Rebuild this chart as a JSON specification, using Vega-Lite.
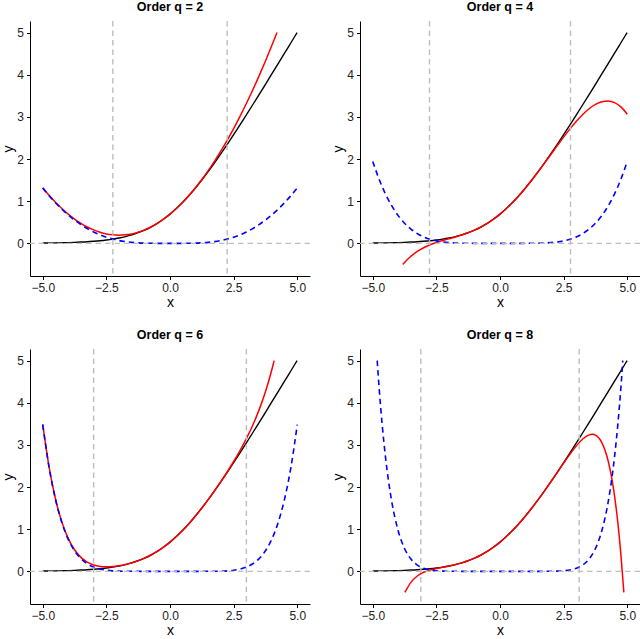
{
  "$schema": "https://vega.github.io/schema/vega-lite/v6.json",
  "background": "white",
  "padding": {"left": 1, "top": 0, "right": 0, "bottom": 0},
  "config": {
    "view": {"stroke": null},
    "font": "Liberation Sans",
    "axis": {
      "grid": false,
      "domainColor": "black",
      "domainWidth": 1,
      "tickColor": "black",
      "tickWidth": 1,
      "tickSize": 3.5,
      "labelFont": "Liberation Sans",
      "labelFontSize": 12,
      "labelColor": "#222222",
      "labelPadding": 3,
      "labelExpr": "replace(datum.label, '-', '−')",
      "titleFont": "Liberation Sans",
      "titleFontSize": 14,
      "titleFontWeight": "normal",
      "titleColor": "black"
    },
    "axisX": {"titlePadding": 2},
    "axisY": {"titlePadding": 1}
  },
  "data": {
    "values": [
      {"q": 2, "s": "v", "x": -2.245}, {"q": 2, "s": "v", "x": 2.245},
      {"q": 4, "s": "v", "x": -2.77}, {"q": 4, "s": "v", "x": 2.77},
      {"q": 6, "s": "v", "x": -3.0}, {"q": 6, "s": "v", "x": 3.0},
      {"q": 8, "s": "v", "x": -3.11}, {"q": 8, "s": "v", "x": 3.11},

      {"q": 2, "s": "f", "x": -5, "y": 0.007}, {"q": 2, "s": "f", "x": -4.75, "y": 0.009}, {"q": 2, "s": "f", "x": -4.5, "y": 0.011}, {"q": 2, "s": "f", "x": -4.25, "y": 0.014},
      {"q": 2, "s": "f", "x": -4, "y": 0.018}, {"q": 2, "s": "f", "x": -3.75, "y": 0.023}, {"q": 2, "s": "f", "x": -3.5, "y": 0.030}, {"q": 2, "s": "f", "x": -3.25, "y": 0.038},
      {"q": 2, "s": "f", "x": -3, "y": 0.049}, {"q": 2, "s": "f", "x": -2.75, "y": 0.062}, {"q": 2, "s": "f", "x": -2.5, "y": 0.079}, {"q": 2, "s": "f", "x": -2.25, "y": 0.100},
      {"q": 2, "s": "f", "x": -2, "y": 0.127}, {"q": 2, "s": "f", "x": -1.75, "y": 0.160}, {"q": 2, "s": "f", "x": -1.5, "y": 0.201}, {"q": 2, "s": "f", "x": -1.25, "y": 0.252},
      {"q": 2, "s": "f", "x": -1, "y": 0.313}, {"q": 2, "s": "f", "x": -0.75, "y": 0.387}, {"q": 2, "s": "f", "x": -0.5, "y": 0.474}, {"q": 2, "s": "f", "x": -0.25, "y": 0.576},
      {"q": 2, "s": "f", "x": 0, "y": 0.693}, {"q": 2, "s": "f", "x": 0.25, "y": 0.826}, {"q": 2, "s": "f", "x": 0.5, "y": 0.974}, {"q": 2, "s": "f", "x": 0.75, "y": 1.137},
      {"q": 2, "s": "f", "x": 1, "y": 1.313}, {"q": 2, "s": "f", "x": 1.25, "y": 1.502}, {"q": 2, "s": "f", "x": 1.5, "y": 1.701}, {"q": 2, "s": "f", "x": 1.75, "y": 1.910},
      {"q": 2, "s": "f", "x": 2, "y": 2.127}, {"q": 2, "s": "f", "x": 2.25, "y": 2.350}, {"q": 2, "s": "f", "x": 2.5, "y": 2.579}, {"q": 2, "s": "f", "x": 2.75, "y": 2.812},
      {"q": 2, "s": "f", "x": 3, "y": 3.049}, {"q": 2, "s": "f", "x": 3.25, "y": 3.288}, {"q": 2, "s": "f", "x": 3.5, "y": 3.530}, {"q": 2, "s": "f", "x": 3.75, "y": 3.773},
      {"q": 2, "s": "f", "x": 4, "y": 4.018}, {"q": 2, "s": "f", "x": 4.25, "y": 4.264}, {"q": 2, "s": "f", "x": 4.5, "y": 4.511}, {"q": 2, "s": "f", "x": 4.75, "y": 4.759},
      {"q": 2, "s": "f", "x": 4.993, "y": 5.0},

      {"q": 4, "s": "f", "x": -5, "y": 0.007}, {"q": 4, "s": "f", "x": -4.75, "y": 0.009}, {"q": 4, "s": "f", "x": -4.5, "y": 0.011}, {"q": 4, "s": "f", "x": -4.25, "y": 0.014},
      {"q": 4, "s": "f", "x": -4, "y": 0.018}, {"q": 4, "s": "f", "x": -3.75, "y": 0.023}, {"q": 4, "s": "f", "x": -3.5, "y": 0.030}, {"q": 4, "s": "f", "x": -3.25, "y": 0.038},
      {"q": 4, "s": "f", "x": -3, "y": 0.049}, {"q": 4, "s": "f", "x": -2.75, "y": 0.062}, {"q": 4, "s": "f", "x": -2.5, "y": 0.079}, {"q": 4, "s": "f", "x": -2.25, "y": 0.100},
      {"q": 4, "s": "f", "x": -2, "y": 0.127}, {"q": 4, "s": "f", "x": -1.75, "y": 0.160}, {"q": 4, "s": "f", "x": -1.5, "y": 0.201}, {"q": 4, "s": "f", "x": -1.25, "y": 0.252},
      {"q": 4, "s": "f", "x": -1, "y": 0.313}, {"q": 4, "s": "f", "x": -0.75, "y": 0.387}, {"q": 4, "s": "f", "x": -0.5, "y": 0.474}, {"q": 4, "s": "f", "x": -0.25, "y": 0.576},
      {"q": 4, "s": "f", "x": 0, "y": 0.693}, {"q": 4, "s": "f", "x": 0.25, "y": 0.826}, {"q": 4, "s": "f", "x": 0.5, "y": 0.974}, {"q": 4, "s": "f", "x": 0.75, "y": 1.137},
      {"q": 4, "s": "f", "x": 1, "y": 1.313}, {"q": 4, "s": "f", "x": 1.25, "y": 1.502}, {"q": 4, "s": "f", "x": 1.5, "y": 1.701}, {"q": 4, "s": "f", "x": 1.75, "y": 1.910},
      {"q": 4, "s": "f", "x": 2, "y": 2.127}, {"q": 4, "s": "f", "x": 2.25, "y": 2.350}, {"q": 4, "s": "f", "x": 2.5, "y": 2.579}, {"q": 4, "s": "f", "x": 2.75, "y": 2.812},
      {"q": 4, "s": "f", "x": 3, "y": 3.049}, {"q": 4, "s": "f", "x": 3.25, "y": 3.288}, {"q": 4, "s": "f", "x": 3.5, "y": 3.530}, {"q": 4, "s": "f", "x": 3.75, "y": 3.773},
      {"q": 4, "s": "f", "x": 4, "y": 4.018}, {"q": 4, "s": "f", "x": 4.25, "y": 4.264}, {"q": 4, "s": "f", "x": 4.5, "y": 4.511}, {"q": 4, "s": "f", "x": 4.75, "y": 4.759},
      {"q": 4, "s": "f", "x": 4.993, "y": 5.0},

      {"q": 6, "s": "f", "x": -5, "y": 0.007}, {"q": 6, "s": "f", "x": -4.75, "y": 0.009}, {"q": 6, "s": "f", "x": -4.5, "y": 0.011}, {"q": 6, "s": "f", "x": -4.25, "y": 0.014},
      {"q": 6, "s": "f", "x": -4, "y": 0.018}, {"q": 6, "s": "f", "x": -3.75, "y": 0.023}, {"q": 6, "s": "f", "x": -3.5, "y": 0.030}, {"q": 6, "s": "f", "x": -3.25, "y": 0.038},
      {"q": 6, "s": "f", "x": -3, "y": 0.049}, {"q": 6, "s": "f", "x": -2.75, "y": 0.062}, {"q": 6, "s": "f", "x": -2.5, "y": 0.079}, {"q": 6, "s": "f", "x": -2.25, "y": 0.100},
      {"q": 6, "s": "f", "x": -2, "y": 0.127}, {"q": 6, "s": "f", "x": -1.75, "y": 0.160}, {"q": 6, "s": "f", "x": -1.5, "y": 0.201}, {"q": 6, "s": "f", "x": -1.25, "y": 0.252},
      {"q": 6, "s": "f", "x": -1, "y": 0.313}, {"q": 6, "s": "f", "x": -0.75, "y": 0.387}, {"q": 6, "s": "f", "x": -0.5, "y": 0.474}, {"q": 6, "s": "f", "x": -0.25, "y": 0.576},
      {"q": 6, "s": "f", "x": 0, "y": 0.693}, {"q": 6, "s": "f", "x": 0.25, "y": 0.826}, {"q": 6, "s": "f", "x": 0.5, "y": 0.974}, {"q": 6, "s": "f", "x": 0.75, "y": 1.137},
      {"q": 6, "s": "f", "x": 1, "y": 1.313}, {"q": 6, "s": "f", "x": 1.25, "y": 1.502}, {"q": 6, "s": "f", "x": 1.5, "y": 1.701}, {"q": 6, "s": "f", "x": 1.75, "y": 1.910},
      {"q": 6, "s": "f", "x": 2, "y": 2.127}, {"q": 6, "s": "f", "x": 2.25, "y": 2.350}, {"q": 6, "s": "f", "x": 2.5, "y": 2.579}, {"q": 6, "s": "f", "x": 2.75, "y": 2.812},
      {"q": 6, "s": "f", "x": 3, "y": 3.049}, {"q": 6, "s": "f", "x": 3.25, "y": 3.288}, {"q": 6, "s": "f", "x": 3.5, "y": 3.530}, {"q": 6, "s": "f", "x": 3.75, "y": 3.773},
      {"q": 6, "s": "f", "x": 4, "y": 4.018}, {"q": 6, "s": "f", "x": 4.25, "y": 4.264}, {"q": 6, "s": "f", "x": 4.5, "y": 4.511}, {"q": 6, "s": "f", "x": 4.75, "y": 4.759},
      {"q": 6, "s": "f", "x": 4.993, "y": 5.0},

      {"q": 8, "s": "f", "x": -5, "y": 0.007}, {"q": 8, "s": "f", "x": -4.75, "y": 0.009}, {"q": 8, "s": "f", "x": -4.5, "y": 0.011}, {"q": 8, "s": "f", "x": -4.25, "y": 0.014},
      {"q": 8, "s": "f", "x": -4, "y": 0.018}, {"q": 8, "s": "f", "x": -3.75, "y": 0.023}, {"q": 8, "s": "f", "x": -3.5, "y": 0.030}, {"q": 8, "s": "f", "x": -3.25, "y": 0.038},
      {"q": 8, "s": "f", "x": -3, "y": 0.049}, {"q": 8, "s": "f", "x": -2.75, "y": 0.062}, {"q": 8, "s": "f", "x": -2.5, "y": 0.079}, {"q": 8, "s": "f", "x": -2.25, "y": 0.100},
      {"q": 8, "s": "f", "x": -2, "y": 0.127}, {"q": 8, "s": "f", "x": -1.75, "y": 0.160}, {"q": 8, "s": "f", "x": -1.5, "y": 0.201}, {"q": 8, "s": "f", "x": -1.25, "y": 0.252},
      {"q": 8, "s": "f", "x": -1, "y": 0.313}, {"q": 8, "s": "f", "x": -0.75, "y": 0.387}, {"q": 8, "s": "f", "x": -0.5, "y": 0.474}, {"q": 8, "s": "f", "x": -0.25, "y": 0.576},
      {"q": 8, "s": "f", "x": 0, "y": 0.693}, {"q": 8, "s": "f", "x": 0.25, "y": 0.826}, {"q": 8, "s": "f", "x": 0.5, "y": 0.974}, {"q": 8, "s": "f", "x": 0.75, "y": 1.137},
      {"q": 8, "s": "f", "x": 1, "y": 1.313}, {"q": 8, "s": "f", "x": 1.25, "y": 1.502}, {"q": 8, "s": "f", "x": 1.5, "y": 1.701}, {"q": 8, "s": "f", "x": 1.75, "y": 1.910},
      {"q": 8, "s": "f", "x": 2, "y": 2.127}, {"q": 8, "s": "f", "x": 2.25, "y": 2.350}, {"q": 8, "s": "f", "x": 2.5, "y": 2.579}, {"q": 8, "s": "f", "x": 2.75, "y": 2.812},
      {"q": 8, "s": "f", "x": 3, "y": 3.049}, {"q": 8, "s": "f", "x": 3.25, "y": 3.288}, {"q": 8, "s": "f", "x": 3.5, "y": 3.530}, {"q": 8, "s": "f", "x": 3.75, "y": 3.773},
      {"q": 8, "s": "f", "x": 4, "y": 4.018}, {"q": 8, "s": "f", "x": 4.25, "y": 4.264}, {"q": 8, "s": "f", "x": 4.5, "y": 4.511}, {"q": 8, "s": "f", "x": 4.75, "y": 4.759},
      {"q": 8, "s": "f", "x": 4.993, "y": 5.0},

      {"q": 2, "s": "T", "x": -5, "y": 1.318}, {"q": 2, "s": "T", "x": -4.75, "y": 1.138}, {"q": 2, "s": "T", "x": -4.5, "y": 0.974}, {"q": 2, "s": "T", "x": -4.25, "y": 0.826},
      {"q": 2, "s": "T", "x": -4, "y": 0.693}, {"q": 2, "s": "T", "x": -3.75, "y": 0.576}, {"q": 2, "s": "T", "x": -3.5, "y": 0.474}, {"q": 2, "s": "T", "x": -3.25, "y": 0.388},
      {"q": 2, "s": "T", "x": -3, "y": 0.318}, {"q": 2, "s": "T", "x": -2.75, "y": 0.263}, {"q": 2, "s": "T", "x": -2.5, "y": 0.224}, {"q": 2, "s": "T", "x": -2.25, "y": 0.201},
      {"q": 2, "s": "T", "x": -2, "y": 0.193}, {"q": 2, "s": "T", "x": -1.75, "y": 0.201}, {"q": 2, "s": "T", "x": -1.5, "y": 0.224}, {"q": 2, "s": "T", "x": -1.25, "y": 0.263},
      {"q": 2, "s": "T", "x": -1, "y": 0.318}, {"q": 2, "s": "T", "x": -0.75, "y": 0.388}, {"q": 2, "s": "T", "x": -0.5, "y": 0.474}, {"q": 2, "s": "T", "x": -0.25, "y": 0.576},
      {"q": 2, "s": "T", "x": 0, "y": 0.693}, {"q": 2, "s": "T", "x": 0.25, "y": 0.826}, {"q": 2, "s": "T", "x": 0.5, "y": 0.974}, {"q": 2, "s": "T", "x": 0.75, "y": 1.138},
      {"q": 2, "s": "T", "x": 1, "y": 1.318}, {"q": 2, "s": "T", "x": 1.25, "y": 1.513}, {"q": 2, "s": "T", "x": 1.5, "y": 1.724}, {"q": 2, "s": "T", "x": 1.75, "y": 1.951},
      {"q": 2, "s": "T", "x": 2, "y": 2.193}, {"q": 2, "s": "T", "x": 2.25, "y": 2.451}, {"q": 2, "s": "T", "x": 2.5, "y": 2.724}, {"q": 2, "s": "T", "x": 2.75, "y": 3.013},
      {"q": 2, "s": "T", "x": 3, "y": 3.318}, {"q": 2, "s": "T", "x": 3.25, "y": 3.638}, {"q": 2, "s": "T", "x": 3.5, "y": 3.974}, {"q": 2, "s": "T", "x": 3.75, "y": 4.326},
      {"q": 2, "s": "T", "x": 4, "y": 4.693}, {"q": 2, "s": "T", "x": 4.201, "y": 5.0},

      {"q": 4, "s": "T", "x": -3.819, "y": -0.5}, {"q": 4, "s": "T", "x": -3.75, "y": -0.454}, {"q": 4, "s": "T", "x": -3.5, "y": -0.307}, {"q": 4, "s": "T", "x": -3.25, "y": -0.193},
      {"q": 4, "s": "T", "x": -3, "y": -0.104}, {"q": 4, "s": "T", "x": -2.75, "y": -0.034}, {"q": 4, "s": "T", "x": -2.5, "y": 0.021}, {"q": 4, "s": "T", "x": -2.25, "y": 0.067},
      {"q": 4, "s": "T", "x": -2, "y": 0.110}, {"q": 4, "s": "T", "x": -1.75, "y": 0.152}, {"q": 4, "s": "T", "x": -1.5, "y": 0.198}, {"q": 4, "s": "T", "x": -1.25, "y": 0.251},
      {"q": 4, "s": "T", "x": -1, "y": 0.313}, {"q": 4, "s": "T", "x": -0.75, "y": 0.387}, {"q": 4, "s": "T", "x": -0.5, "y": 0.474}, {"q": 4, "s": "T", "x": -0.25, "y": 0.576},
      {"q": 4, "s": "T", "x": 0, "y": 0.693}, {"q": 4, "s": "T", "x": 0.25, "y": 0.826}, {"q": 4, "s": "T", "x": 0.5, "y": 0.974}, {"q": 4, "s": "T", "x": 0.75, "y": 1.137},
      {"q": 4, "s": "T", "x": 1, "y": 1.313}, {"q": 4, "s": "T", "x": 1.25, "y": 1.501}, {"q": 4, "s": "T", "x": 1.5, "y": 1.698}, {"q": 4, "s": "T", "x": 1.75, "y": 1.902},
      {"q": 4, "s": "T", "x": 2, "y": 2.110}, {"q": 4, "s": "T", "x": 2.25, "y": 2.317}, {"q": 4, "s": "T", "x": 2.5, "y": 2.521}, {"q": 4, "s": "T", "x": 2.75, "y": 2.716},
      {"q": 4, "s": "T", "x": 3, "y": 2.896}, {"q": 4, "s": "T", "x": 3.25, "y": 3.057}, {"q": 4, "s": "T", "x": 3.5, "y": 3.193}, {"q": 4, "s": "T", "x": 3.75, "y": 3.296},
      {"q": 4, "s": "T", "x": 4, "y": 3.360}, {"q": 4, "s": "T", "x": 4.25, "y": 3.377}, {"q": 4, "s": "T", "x": 4.5, "y": 3.339}, {"q": 4, "s": "T", "x": 4.75, "y": 3.237},
      {"q": 4, "s": "T", "x": 5, "y": 3.063},

      {"q": 6, "s": "T", "x": -5, "y": 3.488}, {"q": 6, "s": "T", "x": -4.75, "y": 2.475}, {"q": 6, "s": "T", "x": -4.5, "y": 1.722}, {"q": 6, "s": "T", "x": -4.25, "y": 1.173},
      {"q": 6, "s": "T", "x": -4, "y": 0.782}, {"q": 6, "s": "T", "x": -3.75, "y": 0.512}, {"q": 6, "s": "T", "x": -3.5, "y": 0.331}, {"q": 6, "s": "T", "x": -3.25, "y": 0.217},
      {"q": 6, "s": "T", "x": -3, "y": 0.149}, {"q": 6, "s": "T", "x": -2.75, "y": 0.116}, {"q": 6, "s": "T", "x": -2.5, "y": 0.106}, {"q": 6, "s": "T", "x": -2.25, "y": 0.113},
      {"q": 6, "s": "T", "x": -2, "y": 0.132}, {"q": 6, "s": "T", "x": -1.75, "y": 0.162}, {"q": 6, "s": "T", "x": -1.5, "y": 0.202}, {"q": 6, "s": "T", "x": -1.25, "y": 0.252},
      {"q": 6, "s": "T", "x": -1, "y": 0.313}, {"q": 6, "s": "T", "x": -0.75, "y": 0.387}, {"q": 6, "s": "T", "x": -0.5, "y": 0.474}, {"q": 6, "s": "T", "x": -0.25, "y": 0.576},
      {"q": 6, "s": "T", "x": 0, "y": 0.693}, {"q": 6, "s": "T", "x": 0.25, "y": 0.826}, {"q": 6, "s": "T", "x": 0.5, "y": 0.974}, {"q": 6, "s": "T", "x": 0.75, "y": 1.137},
      {"q": 6, "s": "T", "x": 1, "y": 1.313}, {"q": 6, "s": "T", "x": 1.25, "y": 1.502}, {"q": 6, "s": "T", "x": 1.5, "y": 1.702}, {"q": 6, "s": "T", "x": 1.75, "y": 1.912},
      {"q": 6, "s": "T", "x": 2, "y": 2.132}, {"q": 6, "s": "T", "x": 2.25, "y": 2.363}, {"q": 6, "s": "T", "x": 2.5, "y": 2.606}, {"q": 6, "s": "T", "x": 2.75, "y": 2.866},
      {"q": 6, "s": "T", "x": 3, "y": 3.149}, {"q": 6, "s": "T", "x": 3.25, "y": 3.467}, {"q": 6, "s": "T", "x": 3.5, "y": 3.831}, {"q": 6, "s": "T", "x": 3.75, "y": 4.262},
      {"q": 6, "s": "T", "x": 4, "y": 4.782}, {"q": 6, "s": "T", "x": 4.091, "y": 5.0},

      {"q": 8, "s": "T", "x": -3.736, "y": -0.5}, {"q": 8, "s": "T", "x": -3.5, "y": -0.262}, {"q": 8, "s": "T", "x": -3.25, "y": -0.111}, {"q": 8, "s": "T", "x": -3, "y": -0.023},
      {"q": 8, "s": "T", "x": -2.75, "y": 0.030}, {"q": 8, "s": "T", "x": -2.5, "y": 0.066}, {"q": 8, "s": "T", "x": -2.25, "y": 0.095}, {"q": 8, "s": "T", "x": -2, "y": 0.125},
      {"q": 8, "s": "T", "x": -1.75, "y": 0.160}, {"q": 8, "s": "T", "x": -1.5, "y": 0.201}, {"q": 8, "s": "T", "x": -1.25, "y": 0.252}, {"q": 8, "s": "T", "x": -1, "y": 0.313},
      {"q": 8, "s": "T", "x": -0.75, "y": 0.387}, {"q": 8, "s": "T", "x": -0.5, "y": 0.474}, {"q": 8, "s": "T", "x": -0.25, "y": 0.576}, {"q": 8, "s": "T", "x": 0, "y": 0.693},
      {"q": 8, "s": "T", "x": 0.25, "y": 0.826}, {"q": 8, "s": "T", "x": 0.5, "y": 0.974}, {"q": 8, "s": "T", "x": 0.75, "y": 1.137}, {"q": 8, "s": "T", "x": 1, "y": 1.313},
      {"q": 8, "s": "T", "x": 1.25, "y": 1.502}, {"q": 8, "s": "T", "x": 1.5, "y": 1.701}, {"q": 8, "s": "T", "x": 1.75, "y": 1.910}, {"q": 8, "s": "T", "x": 2, "y": 2.125},
      {"q": 8, "s": "T", "x": 2.25, "y": 2.345}, {"q": 8, "s": "T", "x": 2.5, "y": 2.566}, {"q": 8, "s": "T", "x": 2.75, "y": 2.780}, {"q": 8, "s": "T", "x": 3, "y": 2.977},
      {"q": 8, "s": "T", "x": 3.25, "y": 3.139}, {"q": 8, "s": "T", "x": 3.5, "y": 3.238}, {"q": 8, "s": "T", "x": 3.625, "y": 3.251}, {"q": 8, "s": "T", "x": 3.75, "y": 3.231},
      {"q": 8, "s": "T", "x": 4, "y": 3.055}, {"q": 8, "s": "T", "x": 4.25, "y": 2.618}, {"q": 8, "s": "T", "x": 4.375, "y": 2.263}, {"q": 8, "s": "T", "x": 4.5, "y": 1.791},
      {"q": 8, "s": "T", "x": 4.625, "y": 1.178}, {"q": 8, "s": "T", "x": 4.75, "y": 0.396}, {"q": 8, "s": "T", "x": 4.85, "y": -0.372}, {"q": 8, "s": "T", "x": 4.865, "y": -0.5},

      {"q": 2, "s": "e", "x": -5, "y": 1.311}, {"q": 2, "s": "e", "x": -4.75, "y": 1.130}, {"q": 2, "s": "e", "x": -4.5, "y": 0.963}, {"q": 2, "s": "e", "x": -4.25, "y": 0.812},
      {"q": 2, "s": "e", "x": -4, "y": 0.675}, {"q": 2, "s": "e", "x": -3.75, "y": 0.553}, {"q": 2, "s": "e", "x": -3.5, "y": 0.445}, {"q": 2, "s": "e", "x": -3.25, "y": 0.350},
      {"q": 2, "s": "e", "x": -3, "y": 0.270}, {"q": 2, "s": "e", "x": -2.75, "y": 0.201}, {"q": 2, "s": "e", "x": -2.5, "y": 0.146}, {"q": 2, "s": "e", "x": -2.25, "y": 0.101},
      {"q": 2, "s": "e", "x": -2, "y": 0.066}, {"q": 2, "s": "e", "x": -1.75, "y": 0.041}, {"q": 2, "s": "e", "x": -1.5, "y": 0.023}, {"q": 2, "s": "e", "x": -1.25, "y": 0.012},
      {"q": 2, "s": "e", "x": -1, "y": 0.005}, {"q": 2, "s": "e", "x": -0.75, "y": 0.002}, {"q": 2, "s": "e", "x": -0.5, "y": 0.0}, {"q": 2, "s": "e", "x": -0.25, "y": 0.0},
      {"q": 2, "s": "e", "x": 0, "y": 0.0}, {"q": 2, "s": "e", "x": 0.25, "y": 0.0}, {"q": 2, "s": "e", "x": 0.5, "y": 0.0}, {"q": 2, "s": "e", "x": 0.75, "y": 0.002},
      {"q": 2, "s": "e", "x": 1, "y": 0.005}, {"q": 2, "s": "e", "x": 1.25, "y": 0.012}, {"q": 2, "s": "e", "x": 1.5, "y": 0.023}, {"q": 2, "s": "e", "x": 1.75, "y": 0.041},
      {"q": 2, "s": "e", "x": 2, "y": 0.066}, {"q": 2, "s": "e", "x": 2.25, "y": 0.101}, {"q": 2, "s": "e", "x": 2.5, "y": 0.146}, {"q": 2, "s": "e", "x": 2.75, "y": 0.201},
      {"q": 2, "s": "e", "x": 3, "y": 0.270}, {"q": 2, "s": "e", "x": 3.25, "y": 0.350}, {"q": 2, "s": "e", "x": 3.5, "y": 0.445}, {"q": 2, "s": "e", "x": 3.75, "y": 0.553},
      {"q": 2, "s": "e", "x": 4, "y": 0.675}, {"q": 2, "s": "e", "x": 4.25, "y": 0.812}, {"q": 2, "s": "e", "x": 4.5, "y": 0.963}, {"q": 2, "s": "e", "x": 4.75, "y": 1.130},
      {"q": 2, "s": "e", "x": 5, "y": 1.311},

      {"q": 4, "s": "e", "x": -5, "y": 1.944}, {"q": 4, "s": "e", "x": -4.75, "y": 1.522}, {"q": 4, "s": "e", "x": -4.5, "y": 1.172}, {"q": 4, "s": "e", "x": -4.25, "y": 0.887},
      {"q": 4, "s": "e", "x": -4, "y": 0.658}, {"q": 4, "s": "e", "x": -3.75, "y": 0.477}, {"q": 4, "s": "e", "x": -3.5, "y": 0.337}, {"q": 4, "s": "e", "x": -3.25, "y": 0.231},
      {"q": 4, "s": "e", "x": -3, "y": 0.152}, {"q": 4, "s": "e", "x": -2.75, "y": 0.096}, {"q": 4, "s": "e", "x": -2.5, "y": 0.058}, {"q": 4, "s": "e", "x": -2.25, "y": 0.033},
      {"q": 4, "s": "e", "x": -2, "y": 0.017}, {"q": 4, "s": "e", "x": -1.75, "y": 0.008}, {"q": 4, "s": "e", "x": -1.5, "y": 0.003}, {"q": 4, "s": "e", "x": -1.25, "y": 0.001},
      {"q": 4, "s": "e", "x": -1, "y": 0.0}, {"q": 4, "s": "e", "x": -0.5, "y": 0.0}, {"q": 4, "s": "e", "x": 0, "y": 0.0}, {"q": 4, "s": "e", "x": 0.5, "y": 0.0},
      {"q": 4, "s": "e", "x": 1, "y": 0.0}, {"q": 4, "s": "e", "x": 1.25, "y": 0.001}, {"q": 4, "s": "e", "x": 1.5, "y": 0.003}, {"q": 4, "s": "e", "x": 1.75, "y": 0.008},
      {"q": 4, "s": "e", "x": 2, "y": 0.017}, {"q": 4, "s": "e", "x": 2.25, "y": 0.033}, {"q": 4, "s": "e", "x": 2.5, "y": 0.058}, {"q": 4, "s": "e", "x": 2.75, "y": 0.096},
      {"q": 4, "s": "e", "x": 3, "y": 0.152}, {"q": 4, "s": "e", "x": 3.25, "y": 0.231}, {"q": 4, "s": "e", "x": 3.5, "y": 0.337}, {"q": 4, "s": "e", "x": 3.75, "y": 0.477},
      {"q": 4, "s": "e", "x": 4, "y": 0.658}, {"q": 4, "s": "e", "x": 4.25, "y": 0.887}, {"q": 4, "s": "e", "x": 4.5, "y": 1.172}, {"q": 4, "s": "e", "x": 4.75, "y": 1.522},
      {"q": 4, "s": "e", "x": 5, "y": 1.944},

      {"q": 6, "s": "e", "x": -5, "y": 3.482}, {"q": 6, "s": "e", "x": -4.75, "y": 2.467}, {"q": 6, "s": "e", "x": -4.5, "y": 1.711}, {"q": 6, "s": "e", "x": -4.25, "y": 1.159},
      {"q": 6, "s": "e", "x": -4, "y": 0.764}, {"q": 6, "s": "e", "x": -3.75, "y": 0.488}, {"q": 6, "s": "e", "x": -3.5, "y": 0.301}, {"q": 6, "s": "e", "x": -3.25, "y": 0.179},
      {"q": 6, "s": "e", "x": -3, "y": 0.101}, {"q": 6, "s": "e", "x": -2.75, "y": 0.054}, {"q": 6, "s": "e", "x": -2.5, "y": 0.027}, {"q": 6, "s": "e", "x": -2.25, "y": 0.012},
      {"q": 6, "s": "e", "x": -2, "y": 0.005}, {"q": 6, "s": "e", "x": -1.75, "y": 0.002}, {"q": 6, "s": "e", "x": -1.5, "y": 0.001}, {"q": 6, "s": "e", "x": -1, "y": 0.0},
      {"q": 6, "s": "e", "x": 0, "y": 0.0}, {"q": 6, "s": "e", "x": 1, "y": 0.0}, {"q": 6, "s": "e", "x": 1.5, "y": 0.001}, {"q": 6, "s": "e", "x": 1.75, "y": 0.002},
      {"q": 6, "s": "e", "x": 2, "y": 0.005}, {"q": 6, "s": "e", "x": 2.25, "y": 0.012}, {"q": 6, "s": "e", "x": 2.5, "y": 0.027}, {"q": 6, "s": "e", "x": 2.75, "y": 0.054},
      {"q": 6, "s": "e", "x": 3, "y": 0.101}, {"q": 6, "s": "e", "x": 3.25, "y": 0.179}, {"q": 6, "s": "e", "x": 3.5, "y": 0.301}, {"q": 6, "s": "e", "x": 3.75, "y": 0.488},
      {"q": 6, "s": "e", "x": 4, "y": 0.764}, {"q": 6, "s": "e", "x": 4.25, "y": 1.159}, {"q": 6, "s": "e", "x": 4.5, "y": 1.711}, {"q": 6, "s": "e", "x": 4.75, "y": 2.467},
      {"q": 6, "s": "e", "x": 5, "y": 3.482},

      {"q": 8, "s": "e", "x": -4.8245, "y": 5.0}, {"q": 8, "s": "e", "x": -4.75, "y": 4.362}, {"q": 8, "s": "e", "x": -4.625, "y": 3.457}, {"q": 8, "s": "e", "x": -4.5, "y": 2.720},
      {"q": 8, "s": "e", "x": -4.375, "y": 2.125}, {"q": 8, "s": "e", "x": -4.25, "y": 1.646}, {"q": 8, "s": "e", "x": -4, "y": 0.963}, {"q": 8, "s": "e", "x": -3.75, "y": 0.542},
      {"q": 8, "s": "e", "x": -3.5, "y": 0.292}, {"q": 8, "s": "e", "x": -3.25, "y": 0.149}, {"q": 8, "s": "e", "x": -3, "y": 0.072}, {"q": 8, "s": "e", "x": -2.75, "y": 0.032},
      {"q": 8, "s": "e", "x": -2.5, "y": 0.013}, {"q": 8, "s": "e", "x": -2.25, "y": 0.005}, {"q": 8, "s": "e", "x": -2, "y": 0.002}, {"q": 8, "s": "e", "x": -1.5, "y": 0.0},
      {"q": 8, "s": "e", "x": 0, "y": 0.0}, {"q": 8, "s": "e", "x": 1.5, "y": 0.0}, {"q": 8, "s": "e", "x": 2, "y": 0.002}, {"q": 8, "s": "e", "x": 2.25, "y": 0.005},
      {"q": 8, "s": "e", "x": 2.5, "y": 0.013}, {"q": 8, "s": "e", "x": 2.75, "y": 0.032}, {"q": 8, "s": "e", "x": 3, "y": 0.072}, {"q": 8, "s": "e", "x": 3.25, "y": 0.149},
      {"q": 8, "s": "e", "x": 3.5, "y": 0.292}, {"q": 8, "s": "e", "x": 3.75, "y": 0.542}, {"q": 8, "s": "e", "x": 4, "y": 0.963}, {"q": 8, "s": "e", "x": 4.25, "y": 1.646},
      {"q": 8, "s": "e", "x": 4.375, "y": 2.125}, {"q": 8, "s": "e", "x": 4.5, "y": 2.720}, {"q": 8, "s": "e", "x": 4.625, "y": 3.457}, {"q": 8, "s": "e", "x": 4.75, "y": 4.362},
      {"q": 8, "s": "e", "x": 4.8245, "y": 5.0}
    ]
  },
  "facet": {
    "field": "q",
    "type": "ordinal",
    "title": null,
    "header": {
      "labelExpr": "'Order q = ' + datum.value",
      "labelFont": "Liberation Sans",
      "labelFontSize": 12.5,
      "labelFontWeight": "bold",
      "labelColor": "black",
      "labelPadding": 7
    }
  },
  "columns": 2,
  "spacing": {"row": 18, "column": 20},
  "resolve": {"axis": {"x": "independent", "y": "independent"}},
  "spec": {
    "width": 280,
    "height": 255,
    "layer": [
      {
        "transform": [{"filter": "datum.s === 'f'"}],
        "mark": {"type": "line", "color": "black", "strokeWidth": 1.4, "interpolate": "monotone"},
        "encoding": {
          "x": {"field": "x", "type": "quantitative", "title": "x",
                "scale": {"domain": [-5.5, 5.5], "nice": false, "zero": false},
                "axis": {"values": [-5, -2.5, 0, 2.5, 5], "format": ".1f"}},
          "y": {"field": "y", "type": "quantitative", "title": "y",
                "scale": {"domain": [-0.775, 5.275], "nice": false, "zero": false},
                "axis": {"values": [0, 1, 2, 3, 4, 5]}}
        }
      },
      {
        "transform": [{"filter": "datum.s === 'T'"}],
        "mark": {"type": "line", "color": "#FF0000", "strokeWidth": 1.5, "interpolate": "monotone"},
        "encoding": {
          "x": {"field": "x", "type": "quantitative"},
          "y": {"field": "y", "type": "quantitative"}
        }
      },
      {
        "transform": [{"filter": "datum.s === 'e'"}],
        "mark": {"type": "line", "color": "#0000FF", "strokeWidth": 1.6, "strokeDash": [5.5, 4], "interpolate": "monotone"},
        "encoding": {
          "x": {"field": "x", "type": "quantitative"},
          "y": {"field": "y", "type": "quantitative"}
        }
      },
      {
        "transform": [{"filter": "datum.s === 'v'"}],
        "mark": {"type": "rule", "color": "#BEBEBE", "strokeWidth": 1.4, "strokeDash": [5.5, 4]},
        "encoding": {
          "x": {"field": "x", "type": "quantitative"}
        }
      },
      {
        "transform": [{"filter": "datum.s === 'v' && datum.x > 0"}],
        "mark": {"type": "rule", "color": "#BEBEBE", "strokeWidth": 1.4, "strokeDash": [5.5, 4]},
        "encoding": {
          "y": {"datum": 0, "type": "quantitative"}
        }
      }
    ]
  }
}
